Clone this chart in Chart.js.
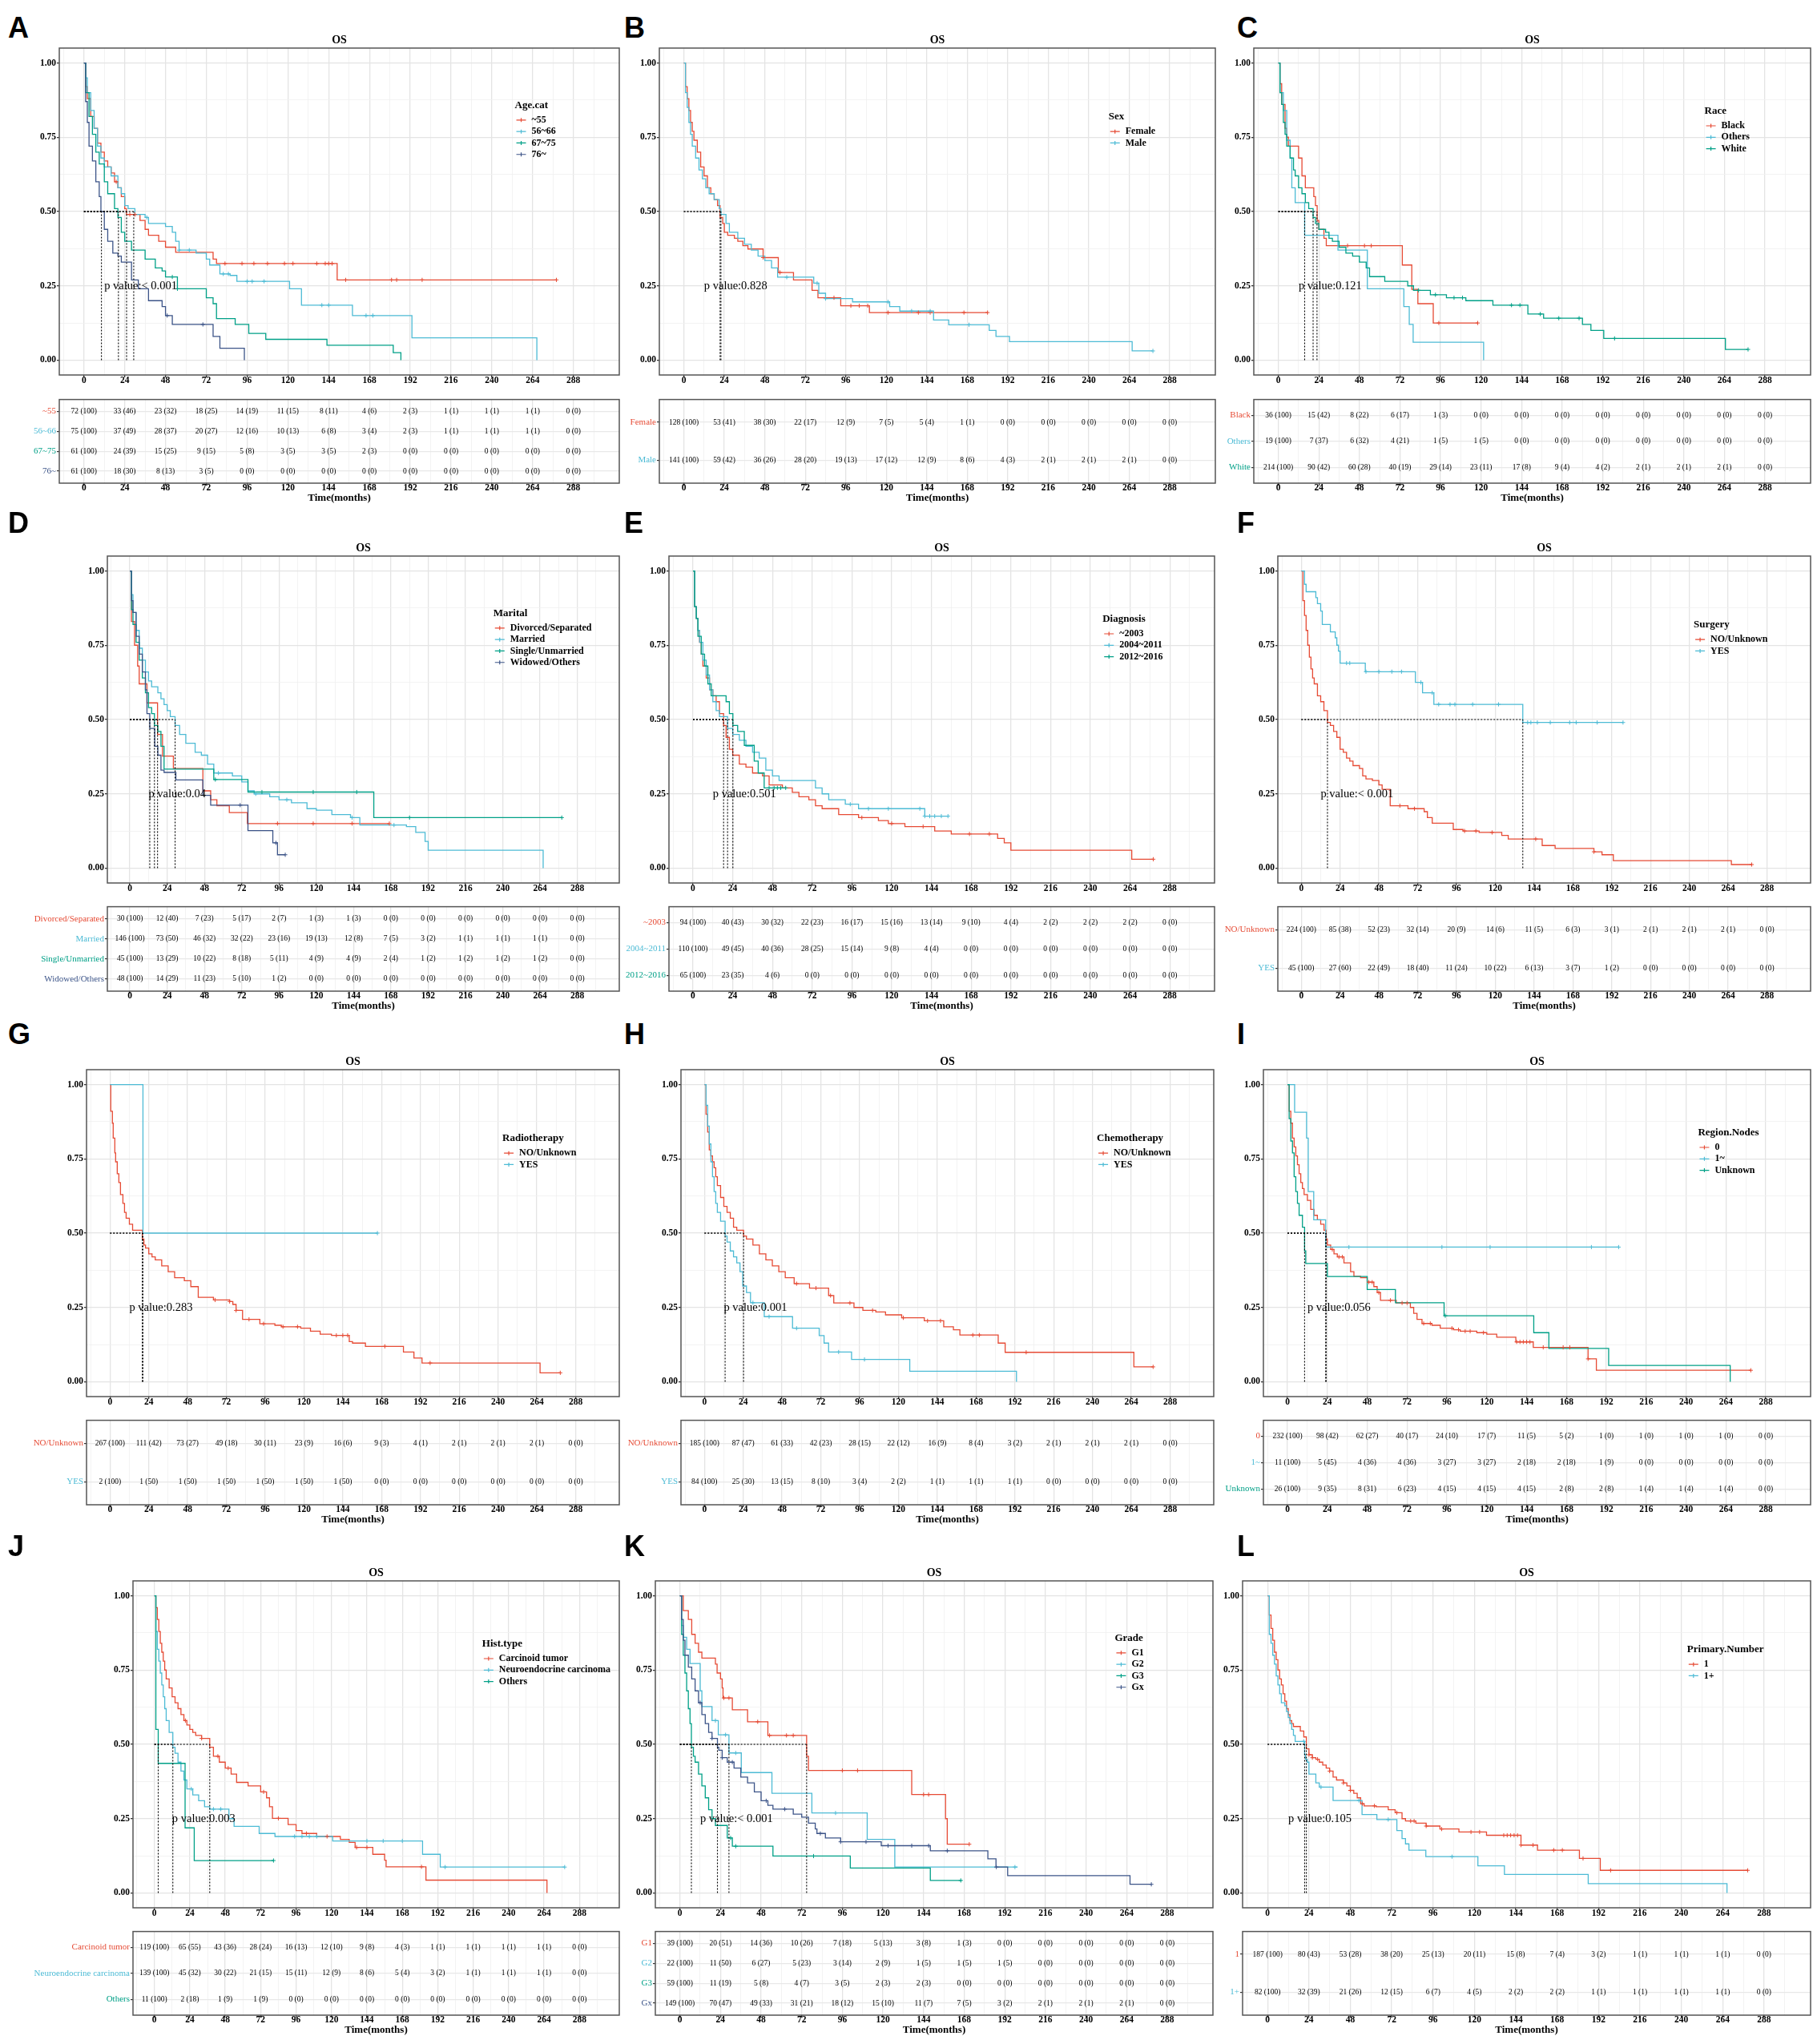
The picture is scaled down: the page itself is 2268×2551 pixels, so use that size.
<!DOCTYPE html>
<html>
<head>
<meta charset="utf-8">
<title>OS Kaplan-Meier curves by clinical factors</title>
<script src="https://cdn.jsdelivr.net/npm/chart.js"></script>
<style>
  body { margin: 0; background: #fff; width: 2268px; height: 2551px; position: relative; overflow: hidden; }
  canvas { position: absolute; }
  .tag { position: absolute; font: bold 36px 'Liberation Sans', Arial, sans-serif; line-height: 36px; color: #000; }
</style>
</head>
<body>
<script>
// ---- shared axis values ----
var xBreaks = [0, 24, 48, 72, 96, 120, 144, 168, 192, 216, 240, 264, 288];
var xMinor = [-12, 12, 36, 60, 84, 108, 132, 156, 180, 204, 228, 252, 276, 300];
var yBreaks = [0, 0.25, 0.5, 0.75, 1];
var yMinor = [0.125, 0.375, 0.625, 0.875];
var groupColors = ['#E64B35', '#4DBBD5', '#00A087', '#3C5488'];

// ---- A: Age.cat ----
var A_title = 'Age.cat';
var A_groups = ['~55', '56~66', '67~75', '76~'];
var A_pval = 'p value:< 0.001';
var A_surv = [
  [[0,1],[1,0.92],[2,0.88],[4,0.82],[6,0.78],[8,0.73],[10,0.70],[12,0.67],[14,0.65],[16,0.63],[18,0.60],[20,0.58],[22,0.55],[24,0.51],[25,0.49],[33,0.47],[36,0.44],[38,0.42],[44,0.40],[48,0.38],[54,0.363],[76,0.34],[78,0.325],[149,0.27],[278,0.27]],
  [[0,1],[1,0.95],[2,0.9],[4,0.84],[6,0.78],[8,0.72],[10,0.68],[12,0.65],[16,0.62],[20,0.58],[22,0.56],[24,0.52],[26,0.51],[30,0.49],[36,0.48],[38,0.46],[48,0.45],[52,0.43],[54,0.40],[56,0.37],[66,0.36],[72,0.34],[74,0.32],[80,0.29],[86,0.285],[90,0.265],[121,0.24],[128,0.185],[158,0.15],[193,0.075],[266.5,0]],
  [[0,1],[1,0.9],[3,0.82],[5,0.76],[7,0.70],[9,0.66],[12,0.6],[14,0.56],[18,0.51],[20,0.48],[22,0.43],[24,0.40],[28,0.37],[36,0.34],[42,0.31],[46,0.30],[48,0.28],[55,0.24],[72,0.21],[76,0.19],[78,0.14],[89,0.12],[97,0.09],[107,0.07],[143,0.05],[182,0.025],[186.5,0]],
  [[0,1],[1,0.87],[2,0.8],[3,0.72],[5,0.67],[7,0.6],[9,0.55],[10,0.5],[12,0.44],[14,0.40],[17,0.36],[20,0.35],[22,0.33],[28,0.27],[32,0.24],[38,0.20],[46,0.18],[48,0.15],[52,0.12],[76,0.08],[80,0.04],[94.4,0]]
];
var A_censor = [[19,27,30,83,93,100,108,118,123,137,142,144,146,154,181,184,199,278],[37,56,62,82,85,96,99,106,140,144,166,170],[52,55],[49,70]];
var A_median = [25.1, 29.3, 20.3, 10.3];
var A_n = [[72,33,23,18,14,11,8,4,2,1,1,1,0],[75,37,28,20,12,10,6,3,2,1,1,1,0],[61,24,15,9,5,3,3,2,0,0,0,0,0],[61,18,8,3,0,0,0,0,0,0,0,0,0]];
var A_pct = [[100,46,32,25,19,15,11,6,3,1,1,1,0],[100,49,37,27,16,13,8,4,3,1,1,1,0],[100,39,25,15,8,5,5,3,0,0,0,0,0],[100,30,13,5,0,0,0,0,0,0,0,0,0]];

// ---- B: Sex ----
var B_title = 'Sex';
var B_groups = ['Female', 'Male'];
var B_pval = 'p value:0.828';
var B_surv = [
  [[0,1],[1,0.92],[2,0.88],[3,0.84],[4,0.80],[5,0.77],[6,0.74],[8,0.70],[10,0.65],[12,0.62],[14,0.58],[16,0.56],[18,0.54],[20,0.52],[21.5,0.48],[23,0.46],[24,0.43],[26,0.42],[30,0.41],[32,0.40],[35,0.385],[38,0.374],[47,0.345],[56,0.295],[65,0.27],[76,0.235],[79.5,0.21],[93,0.183],[110,0.16],[180,0.16]],
  [[0,1],[1,0.9],[2,0.85],[3,0.80],[4,0.76],[5,0.72],[7,0.68],[9,0.64],[11,0.61],[13,0.58],[15,0.56],[18,0.54],[21,0.51],[22,0.49],[25,0.46],[27,0.43],[32,0.41],[36,0.39],[40,0.37],[44,0.35],[48,0.335],[52,0.31],[55.6,0.279],[77,0.259],[80,0.225],[84,0.207],[100,0.196],[122,0.18],[128,0.165],[148,0.135],[157,0.119],[181,0.10],[185,0.08],[193,0.062],[265.7,0.031],[277.7,0.031]]
];
var B_censor = [[47,57,89,99,104,109,121,139,146,166,180],[61,79,84,121,135,146,169,278]];
var B_median = [21.5, 22];
var B_n = [[128,53,38,22,12,7,5,1,0,0,0,0,0],[141,59,36,28,19,17,12,8,4,2,2,2,0]];
var B_pct = [[100,41,30,17,9,5,4,1,0,0,0,0,0],[100,42,26,20,13,12,9,6,3,1,1,1,0]];

// ---- C: Race ----
var C_title = 'Race';
var C_groups = ['Black', 'Others', 'White'];
var C_pval = 'p value:0.121';
var C_surv = [
  [[0,1],[1,0.93],[2,0.86],[4,0.78],[5,0.75],[6,0.72],[12,0.68],[14,0.62],[16,0.58],[21,0.55],[22,0.52],[23,0.47],[24,0.44],[27,0.41],[28.4,0.385],[73.4,0.32],[79,0.238],[82.6,0.19],[91.7,0.125],[118,0.125]],
  [[0,1],[1,0.9],[3,0.84],[5,0.74],[7,0.68],[8,0.58],[10,0.53],[15.6,0.42],[35.3,0.37],[52.7,0.24],[74.3,0.18],[77.5,0.12],[79.8,0.06],[121.5,0]],
  [[0,1],[1,0.9],[2,0.86],[3,0.80],[4,0.76],[5,0.72],[7,0.68],[9,0.64],[10,0.62],[12,0.58],[14,0.56],[16,0.53],[18,0.51],[20.6,0.48],[22,0.46],[24,0.44],[28,0.43],[30,0.41],[32,0.40],[36,0.38],[40,0.36],[44,0.35],[48,0.33],[52,0.31],[54,0.281],[63,0.265],[76.6,0.25],[80,0.235],[90,0.22],[99.5,0.21],[111,0.2],[127,0.185],[147.7,0.155],[157,0.141],[180,0.12],[185,0.10],[192.6,0.073],[264.6,0.036],[277.8,0.036]]
];
var C_censor = [[41,51,55,95,118],[],[83,93,104,109,138,143,155,166,178,199,278]];
var C_median = [22.9, 15.6, 20.6];
var C_n = [[36,15,8,6,1,0,0,0,0,0,0,0,0],[19,7,6,4,1,1,0,0,0,0,0,0,0],[214,90,60,40,29,23,17,9,4,2,2,2,0]];
var C_pct = [[100,42,22,17,3,0,0,0,0,0,0,0,0],[100,37,32,21,5,5,0,0,0,0,0,0,0],[100,42,28,19,14,11,8,4,2,1,1,1,0]];

// ---- D: Marital ----
var D_title = 'Marital';
var D_groups = ['Divorced/Separated', 'Married', 'Single/Unmarried', 'Widowed/Others'];
var D_pval = 'p value:0.04';
var D_surv = [
  [[0,1],[1,0.83],[3,0.75],[5,0.68],[6,0.62],[11,0.556],[17.8,0.45],[21,0.377],[28,0.335],[47,0.26],[52,0.23],[56,0.21],[64,0.187],[75.6,0.15],[167,0.15]],
  [[0,1],[1,0.92],[2,0.86],[4,0.8],[6,0.74],[8,0.70],[10,0.66],[12,0.63],[14,0.61],[18,0.59],[20,0.57],[22,0.55],[24,0.53],[26,0.51],[29.1,0.48],[32,0.45],[36,0.42],[42,0.39],[46,0.38],[50,0.35],[54,0.32],[66,0.31],[72,0.29],[76,0.26],[80,0.25],[90,0.24],[96,0.23],[104,0.22],[114,0.20],[120,0.195],[130,0.18],[142,0.17],[148,0.145],[178,0.14],[184,0.12],[190,0.09],[192,0.06],[266,0]],
  [[0,1],[1,0.87],[2,0.82],[4,0.76],[6,0.7],[8,0.64],[10,0.59],[12,0.54],[14,0.52],[15.8,0.48],[18,0.46],[20,0.41],[22,0.333],[54,0.298],[76,0.256],[157,0.17],[278,0.17]],
  [[0,1],[1,0.9],[2,0.86],[4,0.78],[6,0.72],[8,0.66],[10,0.60],[11,0.52],[12.8,0.47],[16,0.41],[18,0.38],[20,0.33],[22,0.322],[29.6,0.297],[47,0.245],[52,0.212],[76,0.126],[92,0.085],[95,0.045],[100,0.045]]
];
var D_censor = [[95,118,143,167],[57,81,101,143,170],[55,85,118,146,180,278],[71,94,100]];
var D_median = [17.8, 29.1, 15.8, 12.8];
var D_n = [[30,12,7,5,2,1,1,0,0,0,0,0,0],[146,73,46,32,23,19,12,7,3,1,1,1,0],[45,13,10,8,5,4,4,2,1,1,1,1,0],[48,14,11,5,1,0,0,0,0,0,0,0,0]];
var D_pct = [[100,40,23,17,7,3,3,0,0,0,0,0,0],[100,50,32,22,16,13,8,5,2,1,1,1,0],[100,29,22,18,11,9,9,4,2,2,2,2,0],[100,29,23,10,2,0,0,0,0,0,0,0,0]];

// ---- E: Diagnosis ----
var E_title = 'Diagnosis';
var E_groups = ['~2003', '2004~2011', '2012~2016'];
var E_pval = 'p value:0.501';
var E_surv = [
  [[0,1],[1,0.88],[2,0.84],[3,0.80],[4,0.76],[5,0.72],[6,0.68],[8,0.64],[10,0.6],[12,0.58],[14,0.56],[16,0.52],[18.5,0.48],[20,0.44],[22,0.40],[24,0.38],[28,0.35],[32,0.34],[36,0.32],[42,0.31],[46,0.28],[54,0.27],[60,0.255],[64,0.24],[70,0.23],[74,0.21],[78,0.20],[88,0.18],[100,0.17],[112,0.16],[118,0.15],[128,0.14],[146,0.125],[156,0.115],[184,0.10],[188,0.085],[192,0.06],[265,0.03],[278,0.03]],
  [[0,1],[1,0.88],[2,0.84],[3,0.80],[4,0.76],[6,0.70],[8,0.65],[10,0.60],[12,0.56],[14,0.53],[16,0.51],[20.9,0.47],[24,0.45],[28,0.43],[32,0.41],[36,0.39],[40,0.37],[44,0.33],[48,0.31],[52,0.295],[74,0.27],[78,0.25],[82,0.23],[92,0.215],[100,0.20],[140,0.175],[154,0.175]],
  [[0,1],[1,0.88],[2,0.84],[3,0.78],[5,0.72],[7,0.68],[9,0.62],[11,0.58],[20,0.56],[22,0.52],[24.1,0.48],[27,0.46],[31,0.413],[37,0.36],[39.4,0.32],[43,0.27],[56,0.27]]
];
var E_censor = [[102,120,139,167,179,278],[95,106,118,137,140,143,146,150,154],[46,49,51,53,56]];
var E_median = [18.5, 20.9, 24.1];
var E_n = [[94,40,30,22,16,15,13,9,4,2,2,2,0],[110,49,40,28,15,9,4,0,0,0,0,0,0],[65,23,4,0,0,0,0,0,0,0,0,0,0]];
var E_pct = [[100,43,32,23,17,16,14,10,4,2,2,2,0],[100,45,36,25,14,8,4,0,0,0,0,0,0],[100,35,6,0,0,0,0,0,0,0,0,0,0]];

// ---- F: Surgery ----
var F_title = 'Surgery';
var F_groups = ['NO/Unknown', 'YES'];
var F_pval = 'p value:< 0.001';
var F_surv = [
  [[0,1],[1,0.9],[2,0.85],[3,0.8],[4,0.75],[5,0.71],[6,0.67],[7,0.64],[8,0.62],[10,0.58],[12,0.56],[14,0.53],[16.2,0.49],[18,0.48],[20,0.46],[22,0.44],[24,0.40],[26,0.39],[28,0.37],[30,0.36],[32,0.345],[36,0.335],[38,0.31],[40,0.30],[44,0.295],[48,0.28],[50,0.265],[55,0.21],[66,0.20],[76,0.19],[78,0.17],[81,0.151],[94,0.13],[100,0.125],[110,0.12],[124,0.11],[128,0.098],[149,0.076],[157,0.066],[181,0.055],[186,0.045],[193,0.025],[266,0.012],[278.6,0.012]],
  [[0,1],[2,0.955],[3,0.93],[9,0.91],[10,0.89],[12,0.865],[13,0.82],[18,0.795],[21,0.775],[22,0.75],[23,0.73],[24,0.69],[39.6,0.661],[70.6,0.625],[75,0.59],[82,0.551],[137,0.49],[199,0.49]]
];
var F_censor = [[61,70,101,108,118,145,181,278.6],[28,30,40,48,56,62,74,81,85,92,95,106,122,140,142,146,154,166,170,183,199]];
var F_median = [16.2, 137];
var F_n = [[224,85,52,32,20,14,11,6,3,2,2,2,0],[45,27,22,18,11,10,6,3,1,0,0,0,0]];
var F_pct = [[100,38,23,14,9,6,5,3,1,1,1,1,0],[100,60,49,40,24,22,13,7,2,0,0,0,0]];

// ---- G: Radiotherapy ----
var G_title = 'Radiotherapy';
var G_groups = ['NO/Unknown', 'YES'];
var G_pval = 'p value:0.283';
var G_surv = [
  [[0,1],[0.5,0.91],[1.5,0.87],[2,0.82],[3,0.77],[3.5,0.74],[4.5,0.70],[5.5,0.67],[6.5,0.63],[8,0.60],[9,0.57],[10,0.55],[12,0.53],[14,0.51],[20,0.48],[21,0.46],[22,0.45],[24,0.43],[26,0.42],[28,0.41],[32,0.39],[36,0.37],[40,0.35],[46,0.34],[50,0.32],[54.6,0.284],[64,0.275],[74,0.27],[76,0.26],[78,0.24],[82,0.21],[92.7,0.195],[102,0.19],[106,0.185],[118,0.18],[124,0.17],[130,0.16],[137,0.156],[148,0.135],[150,0.13],[158,0.119],[181.5,0.10],[188,0.08],[193,0.063],[266,0.03],[278.5,0.03]],
  [[0,1],[20.4,0.5],[165.4,0.5]]
];
var G_censor = [[65,74,78,86,95,107,116,140,144,147,170,198,278.5],[165.4]];
var G_median = [20, 20.4];
var G_n = [[267,111,73,49,30,23,16,9,4,2,2,2,0],[2,1,1,1,1,1,1,0,0,0,0,0,0]];
var G_pct = [[100,42,27,18,11,9,6,3,1,1,1,1,0],[100,50,50,50,50,50,50,0,0,0,0,0,0]];

// ---- H: Chemotherapy ----
var H_title = 'Chemotherapy';
var H_groups = ['NO/Unknown', 'YES'];
var H_pval = 'p value:0.001';
var H_surv = [
  [[0,1],[1,0.9],[2,0.84],[3,0.78],[4,0.76],[5,0.74],[6,0.72],[7,0.69],[8,0.66],[10,0.62],[12,0.59],[14,0.57],[16,0.55],[18,0.52],[20,0.51],[24.2,0.49],[26,0.48],[30,0.46],[34,0.43],[38,0.41],[42,0.39],[46,0.37],[50,0.35],[55.5,0.33],[65,0.315],[76.8,0.29],[80,0.265],[92.5,0.25],[98,0.24],[106,0.235],[112,0.225],[122,0.215],[136,0.205],[148,0.185],[154,0.175],[158,0.157],[181.7,0.13],[186,0.099],[265.6,0.05],[277.5,0.05]],
  [[0,1],[1,0.93],[2,0.86],[3,0.80],[4,0.74],[5,0.69],[6,0.64],[7,0.6],[8,0.57],[10,0.54],[12.8,0.49],[14,0.47],[16,0.44],[18,0.42],[20,0.40],[22,0.37],[23.7,0.322],[26,0.3],[28.5,0.266],[37,0.219],[54.5,0.18],[71,0.155],[74,0.13],[76.8,0.10],[91,0.075],[127,0.035],[193,0]]
];
var H_censor = [[57,69,78,90,104,123,138,146,166,170,199,277.5],[30,40,57,83,99]];
var H_median = [24.2, 12.8];
var H_n = [[185,87,61,42,28,22,16,8,3,2,2,2,0],[84,25,13,8,3,2,1,1,1,0,0,0,0]];
var H_pct = [[100,47,33,23,15,12,9,4,2,1,1,1,0],[100,30,15,10,4,2,1,1,1,0,0,0,0]];

// ---- I: Region.Nodes ----
var I_title = 'Region.Nodes';
var I_groups = ['0', '1~', 'Unknown'];
var I_pval = 'p value:0.056';
var I_surv = [
  [[0,1],[1,0.91],[2,0.87],[3,0.82],[4,0.79],[5,0.76],[6,0.73],[7,0.70],[8,0.67],[9,0.65],[10,0.63],[12,0.61],[14,0.58],[16,0.56],[18,0.545],[20,0.53],[22,0.51],[23.3,0.48],[24,0.46],[26,0.445],[28,0.43],[30,0.42],[34,0.40],[38,0.37],[40,0.355],[44,0.35],[48,0.335],[52,0.32],[54,0.30],[56,0.274],[65.5,0.265],[74,0.25],[76,0.23],[78,0.21],[81,0.196],[87,0.19],[92,0.18],[100,0.175],[104,0.17],[114,0.165],[120,0.16],[126,0.15],[137.5,0.134],[148,0.1155],[181,0.077],[186,0.0385],[279,0.0385]],
  [[0,1],[4.3,0.907],[11.5,0.82],[12.5,0.64],[15.8,0.545],[23,0.453],[199.4,0.453]],
  [[0,1],[1,0.885],[2,0.81],[3,0.77],[4,0.69],[5,0.64],[6,0.60],[7,0.56],[9,0.52],[10.3,0.44],[11,0.398],[24,0.354],[48,0.31],[65,0.266],[94.3,0.222],[148.3,0.165],[157.4,0.112],[193.4,0.055],[266.6,0]]
];
var I_censor = [[27,31,33,49,51,55,62,69,72,82,86,99,103,107,110,118,138,140,142,144,146,154,166,170,181,279],[37,93,122,183,199.4],[95]];
var I_median = [23.3, 23, 10.3];
var I_n = [[232,98,62,40,24,17,11,5,1,1,1,1,0],[11,5,4,4,3,3,2,2,1,0,0,0,0],[26,9,8,6,4,4,4,2,2,1,1,1,0]];
var I_pct = [[100,42,27,17,10,7,5,2,0,0,0,0,0],[100,45,36,36,27,27,18,18,9,0,0,0,0],[100,35,31,23,15,15,15,8,8,4,4,4,0]];

// ---- J: Hist.type ----
var J_title = 'Hist.type';
var J_groups = ['Carcinoid tumor', 'Neuroendocrine carcinoma', 'Others'];
var J_pval = 'p value:0.003';
var J_surv = [
  [[0,1],[1,0.96],[2,0.92],[3,0.88],[4,0.84],[5,0.81],[6,0.78],[7,0.75],[8,0.72],[10,0.69],[12,0.66],[14,0.64],[16,0.62],[18,0.60],[20,0.58],[22,0.565],[24,0.55],[26,0.54],[28,0.53],[32,0.52],[37.5,0.49],[40,0.46],[44,0.44],[48,0.42],[52,0.40],[55.7,0.372],[63.5,0.36],[72,0.34],[76,0.32],[78,0.29],[80,0.251],[90.6,0.23],[96,0.21],[100,0.2],[110,0.19],[126,0.18],[132,0.17],[136,0.153],[148,0.13],[156,0.11],[157,0.088],[184,0.043],[266,0]],
  [[0,1],[1,0.88],[2,0.82],[3,0.78],[4,0.74],[5,0.70],[6,0.66],[7,0.62],[8,0.58],[10,0.54],[12.5,0.49],[14,0.47],[16,0.44],[18,0.41],[20,0.38],[22,0.35],[26,0.33],[30,0.31],[34,0.29],[37.5,0.282],[50.5,0.25],[54,0.224],[71,0.2],[81.7,0.19],[120.8,0.175],[181.7,0.13],[193.7,0.087],[278,0.087]],
  [[0,1],[1,0.55],[2.6,0.436],[20.8,0.219],[27,0.109],[80.7,0.109]]
];
var J_censor = [[21,32,43,50,74,84,103,117,137,144,181],[25,40,45,95,100,105,110,144,155,168,197,278],[80.7]];
var J_median = [37.5, 12.5, 2.6];
var J_n = [[119,65,43,28,16,12,9,4,1,1,1,1,0],[139,45,30,21,15,12,8,5,3,1,1,1,0],[11,2,1,1,0,0,0,0,0,0,0,0,0]];
var J_pct = [[100,55,36,24,13,10,8,3,1,1,1,1,0],[100,32,22,15,11,9,6,4,2,1,1,1,0],[100,18,9,9,0,0,0,0,0,0,0,0,0]];

// ---- K: Grade ----
var K_title = 'Grade';
var K_groups = ['G1', 'G2', 'G3', 'Gx'];
var K_pval = 'p value:< 0.001';
var K_surv = [
  [[0,1],[2,0.95],[5,0.92],[7,0.87],[9,0.84],[11,0.81],[13,0.79],[21,0.77],[22,0.74],[24,0.72],[25,0.69],[25.5,0.656],[31,0.616],[40,0.576],[52,0.53],[74.9,0.46],[76,0.412],[137,0.331],[157,0.25],[158,0.164],[171,0.164]],
  [[0,1],[1,0.9],[2,0.86],[4,0.82],[6,0.772],[12,0.68],[13,0.627],[19,0.58],[22.7,0.532],[29,0.471],[36.3,0.405],[54.4,0.335],[78,0.269],[110.7,0.18],[127,0.087],[199.6,0.087]],
  [[0,1],[1,0.87],[2,0.8],[3,0.74],[4,0.68],[5,0.62],[6,0.57],[6.8,0.49],[8,0.46],[9,0.44],[11,0.40],[13,0.36],[15,0.32],[17,0.28],[19,0.25],[21,0.227],[28,0.185],[31,0.157],[55,0.124],[100.7,0.084],[148,0.042],[166.5,0.042]],
  [[0,1],[1,0.92],[2,0.85],[3,0.80],[5,0.76],[7,0.72],[9,0.68],[11,0.64],[13,0.60],[15,0.57],[17,0.54],[19,0.52],[22.2,0.49],[23,0.48],[25,0.455],[28,0.44],[32,0.42],[36,0.39],[40,0.37],[44,0.34],[48,0.31],[52,0.295],[55,0.282],[67,0.265],[72,0.255],[76,0.235],[80,0.215],[81,0.2],[86,0.185],[95,0.172],[119,0.159],[148,0.142],[182,0.115],[186.8,0.087],[193.7,0.058],[266,0.029],[278.6,0.029]]
];
var K_censor = [[26,29,46,53,63,67,96,105,144,147,171],[21,27,33,92,198],[30,33,79,166],[12,19,25,31,51,62,83,95,110,123,137,147,158,187,278.6]];
var K_median = [74.9, 29, 6.8, 22.2];
var K_n = [[39,20,14,10,7,5,3,1,0,0,0,0,0],[22,11,6,5,3,2,1,1,1,0,0,0,0],[59,11,5,4,3,2,2,0,0,0,0,0,0],[149,70,49,31,18,15,11,7,3,2,2,2,0]];
var K_pct = [[100,51,36,26,18,13,8,3,0,0,0,0,0],[100,50,27,23,14,9,5,5,5,0,0,0,0],[100,19,8,7,5,3,3,0,0,0,0,0,0],[100,47,33,21,12,10,7,5,2,1,1,1,0]];

// ---- L: Primary.Number ----
var L_title = 'Primary.Number';
var L_groups = ['1', '1+'];
var L_pval = 'p value:0.105';
var L_surv = [
  [[0,1],[1,0.935],[2,0.89],[3,0.85],[4,0.81],[5,0.785],[6,0.75],[7,0.72],[8,0.70],[9,0.67],[10,0.645],[11,0.62],[12,0.60],[13,0.58],[14,0.57],[15,0.56],[19,0.545],[21,0.525],[22.5,0.485],[24,0.465],[26,0.455],[28,0.45],[30,0.44],[32,0.43],[34,0.42],[36,0.41],[38,0.39],[40,0.38],[44,0.37],[46,0.36],[48,0.345],[50,0.335],[52,0.32],[54,0.30],[56,0.293],[63,0.29],[70,0.28],[74,0.27],[78,0.25],[80,0.242],[86,0.235],[92,0.225],[100,0.215],[111,0.205],[127,0.194],[147,0.161],[156.6,0.144],[180.9,0.116],[193,0.076],[278.5,0.076]],
  [[0,1],[1,0.87],[2,0.84],[3,0.80],[4,0.77],[5,0.73],[6,0.70],[7,0.67],[8,0.64],[10,0.63],[11,0.61],[12,0.59],[13,0.57],[14,0.55],[15,0.53],[16,0.51],[21.5,0.465],[22,0.45],[23,0.44],[24,0.40],[28,0.37],[30,0.356],[38,0.311],[54.8,0.264],[63.4,0.247],[75,0.21],[78,0.183],[80,0.165],[82,0.144],[91.8,0.122],[122,0.091],[137.4,0.062],[186,0.031],[266.5,0]]
];
var L_censor = [[24,26,29,36,44,48,55,62,75,83,85,92,101,118,123,137,139,141,143,145,147,154,166,171,183,199,278.5],[21,31,53,70,107]];
var L_median = [22.5, 21.5];
var L_n = [[187,80,53,38,25,20,15,7,3,1,1,1,0],[82,32,21,12,6,4,2,2,1,1,1,1,0]];
var L_pct = [[100,43,28,20,13,11,8,4,2,1,1,1,0],[100,39,26,15,7,5,2,2,1,1,1,1,0]];

// ---- page layout (pixels) ----
var SERIF = "'Liberation Serif', 'Times New Roman', serif";
var colStart = [0, 776, 1519];
var tagX = [10, 779, 1544];
var rowGeo = [
  { plotTop: 60,   plotBot: 468,  tabTop: 495,  tabBot: 603,  tagTop: 22 },
  { plotTop: 694,  plotBot: 1102, tabTop: 1128, tabBot: 1237, tagTop: 640 },
  { plotTop: 1335, plotBot: 1743, tabTop: 1769, tabBot: 1878, tagTop: 1278 },
  { plotTop: 1973, plotBot: 2381, tabTop: 2407, tabBot: 2515, tagTop: 1917 }
];

var panels = [
  { tag: 'A', col: 0, row: 0, boxL: 74,   boxR: 773,  title: A_title, groups: A_groups, pval: A_pval, surv: A_surv, censor: A_censor, median: A_median, n: A_n, pct: A_pct },
  { tag: 'B', col: 1, row: 0, boxL: 823,  boxR: 1517, title: B_title, groups: B_groups, pval: B_pval, surv: B_surv, censor: B_censor, median: B_median, n: B_n, pct: B_pct },
  { tag: 'C', col: 2, row: 0, boxL: 1565, boxR: 2260, title: C_title, groups: C_groups, pval: C_pval, surv: C_surv, censor: C_censor, median: C_median, n: C_n, pct: C_pct },
  { tag: 'D', col: 0, row: 1, boxL: 134,  boxR: 773,  title: D_title, groups: D_groups, pval: D_pval, surv: D_surv, censor: D_censor, median: D_median, n: D_n, pct: D_pct },
  { tag: 'E', col: 1, row: 1, boxL: 835,  boxR: 1516, title: E_title, groups: E_groups, pval: E_pval, surv: E_surv, censor: E_censor, median: E_median, n: E_n, pct: E_pct },
  { tag: 'F', col: 2, row: 1, boxL: 1595, boxR: 2260, title: F_title, groups: F_groups, pval: F_pval, surv: F_surv, censor: F_censor, median: F_median, n: F_n, pct: F_pct },
  { tag: 'G', col: 0, row: 2, boxL: 108,  boxR: 773,  title: G_title, groups: G_groups, pval: G_pval, surv: G_surv, censor: G_censor, median: G_median, n: G_n, pct: G_pct },
  { tag: 'H', col: 1, row: 2, boxL: 850,  boxR: 1515, title: H_title, groups: H_groups, pval: H_pval, surv: H_surv, censor: H_censor, median: H_median, n: H_n, pct: H_pct },
  { tag: 'I', col: 2, row: 2, boxL: 1577, boxR: 2260, title: I_title, groups: I_groups, pval: I_pval, surv: I_surv, censor: I_censor, median: I_median, n: I_n, pct: I_pct },
  { tag: 'J', col: 0, row: 3, boxL: 166,  boxR: 773,  title: J_title, groups: J_groups, pval: J_pval, surv: J_surv, censor: J_censor, median: J_median, n: J_n, pct: J_pct },
  { tag: 'K', col: 1, row: 3, boxL: 818,  boxR: 1514, title: K_title, groups: K_groups, pval: K_pval, surv: K_surv, censor: K_censor, median: K_median, n: K_n, pct: K_pct },
  { tag: 'L', col: 2, row: 3, boxL: 1551, boxR: 2260, title: L_title, groups: L_groups, pval: L_pval, surv: L_surv, censor: L_censor, median: L_median, n: L_n, pct: L_pct }
];

// ---- helpers ----
function stepValue(curve, t) {
  var s = curve[0][1];
  for (var i = 0; i < curve.length; i++) {
    if (curve[i][0] <= t) s = curve[i][1]; else break;
  }
  return s;
}

function isIn(list, c) {
  return c && c.tick && list.indexOf(c.tick.value) >= 0;
}

function makeCanvas(left, top, w, h) {
  var c = document.createElement('canvas');
  c.width = w; c.height = h;
  c.style.left = left + 'px'; c.style.top = top + 'px';
  c.style.width = w + 'px'; c.style.height = h + 'px';
  document.body.appendChild(c);
  return c;
}

function xAxis(height, pad) {
  var all = xMinor.concat(xBreaks).sort(function (a, b) { return a - b; });
  return {
    type: 'linear', min: -14.5, max: 315,
    afterBuildTicks: function (s) { s.ticks = all.map(function (v) { return { value: v }; }); },
    afterFit: function (s) { s.height = height; },
    border: { display: false },
    grid: {
      color: function (c) { return isIn(xBreaks, c) ? '#E4E4E4' : '#F0F0F0'; },
      lineWidth: function (c) { return isIn(xBreaks, c) ? 1.3 : 0.8; },
      tickLength: 3,
      tickColor: function (c) { return isIn(xBreaks, c) ? '#333' : 'rgba(0,0,0,0)'; }
    },
    ticks: {
      autoSkip: false, maxRotation: 0, minRotation: 0, padding: pad, color: '#000',
      font: { family: SERIF, size: 11.5, weight: 'bold' },
      callback: function (v) { return xBreaks.indexOf(v) >= 0 ? String(v) : ''; }
    }
  };
}

function yAxisPlot(width) {
  var all = yBreaks.concat(yMinor).sort(function (a, b) { return a - b; });
  return {
    type: 'linear', min: -0.05, max: 1.05,
    afterBuildTicks: function (s) { s.ticks = all.map(function (v) { return { value: v }; }); },
    afterFit: function (s) { s.width = width; },
    border: { display: false },
    grid: {
      color: function (c) { return isIn(yBreaks, c) ? '#E4E4E4' : '#F0F0F0'; },
      lineWidth: function (c) { return isIn(yBreaks, c) ? 1.3 : 0.8; },
      tickLength: 3,
      tickColor: function (c) { return isIn(yBreaks, c) ? '#333' : 'rgba(0,0,0,0)'; }
    },
    ticks: {
      autoSkip: false, padding: 1, color: '#000',
      font: { family: SERIF, size: 11.5, weight: 'bold' },
      callback: function (v) { return yBreaks.indexOf(v) >= 0 ? v.toFixed(2) : ''; }
    }
  };
}

function yAxisTable(width, groups) {
  return {
    type: 'linear', reverse: true, min: -0.6, max: groups.length - 1 + 0.6,
    afterBuildTicks: function (s) { s.ticks = groups.map(function (g, i) { return { value: i }; }); },
    afterFit: function (s) { s.width = width; },
    border: { display: false },
    grid: { color: '#E8E8E8', lineWidth: 1.2, tickLength: 3, tickColor: '#333' },
    ticks: {
      autoSkip: false, padding: 1,
      color: function (c) { return groupColors[c.tick ? c.tick.value : c.index]; },
      font: { family: SERIF, size: 11 },
      callback: function (v) { return groups[v]; }
    }
  };
}

function plotDecor(p) {
  return {
    id: 'plotDecor' + p.tag,
    afterDraw: function (chart) {
      var ctx = chart.ctx, a = chart.chartArea;
      var xs = chart.scales.x, ys = chart.scales.y;
      ctx.save();
      ctx.strokeStyle = '#555'; ctx.lineWidth = 1.5;
      ctx.strokeRect(a.left, a.top, a.right - a.left, a.bottom - a.top);
      ctx.fillStyle = '#000';
      ctx.font = 'bold 14px ' + SERIF;
      ctx.textAlign = 'center'; ctx.textBaseline = 'middle';
      ctx.fillText('OS', (a.left + a.right) / 2, a.top - 10);
      // p value annotation
      ctx.font = '14.5px ' + SERIF;
      ctx.textAlign = 'left';
      ctx.fillText(p.pval, xs.getPixelForValue(12), ys.getPixelForValue(0.25));
      // legend, centred at (0.85, 0.75) of the panel
      ctx.font = 'bold 13px ' + SERIF;
      var tw = ctx.measureText(p.title).width;
      ctx.font = 'bold 12px ' + SERIF;
      var iw = 0;
      p.groups.forEach(function (g) { iw = Math.max(iw, ctx.measureText(g).width); });
      var w = Math.max(tw, 21 + iw);
      var h = 18.6 + (p.groups.length - 1) * 14.3;
      var x0 = a.left + 0.85 * (a.right - a.left) - w / 2;
      var y0 = a.bottom - 0.75 * (a.bottom - a.top) - h / 2;
      ctx.font = 'bold 13px ' + SERIF;
      ctx.fillText(p.title, x0, y0);
      ctx.font = 'bold 12px ' + SERIF;
      p.groups.forEach(function (g, i) {
        var y = y0 + 18.6 + i * 14.3;
        ctx.strokeStyle = groupColors[i]; ctx.lineWidth = 1.2;
        ctx.beginPath();
        ctx.moveTo(x0 + 2, y); ctx.lineTo(x0 + 14, y);
        ctx.moveTo(x0 + 8, y - 2.5); ctx.lineTo(x0 + 8, y + 2.5);
        ctx.stroke();
        ctx.fillText(g, x0 + 21, y);
      });
      ctx.restore();
    }
  };
}

function tableDecor(p) {
  return {
    id: 'tableDecor' + p.tag,
    afterDraw: function (chart) {
      var ctx = chart.ctx, a = chart.chartArea;
      ctx.save();
      ctx.fillStyle = '#000';
      ctx.font = '9.5px ' + SERIF;
      ctx.textAlign = 'center'; ctx.textBaseline = 'middle';
      var meta = chart.getDatasetMeta(0);
      meta.data.forEach(function (el, k) {
        ctx.fillText(chart.data.datasets[0].data[k].label, el.x, el.y);
      });
      ctx.strokeStyle = '#555'; ctx.lineWidth = 1.5;
      ctx.strokeRect(a.left, a.top, a.right - a.left, a.bottom - a.top);
      ctx.font = 'bold 13px ' + SERIF;
      ctx.fillText('Time(months)', (a.left + a.right) / 2, a.bottom + 18.5);
      ctx.restore();
    }
  };
}

var baseOptions = function () {
  return {
    responsive: false, animation: false, events: [], devicePixelRatio: 1,
    plugins: { legend: { display: false }, tooltip: { enabled: false }, title: { display: false } }
  };
};

// ---- build panels ----
panels.forEach(function (p) {
  var g = rowGeo[p.row], c0 = colStart[p.col];
  var tag = document.createElement('div');
  tag.className = 'tag';
  tag.textContent = p.tag;
  tag.style.left = tagX[p.col] + 'px';
  tag.style.top = (g.tagTop - 5) + 'px';
  document.body.appendChild(tag);

  // survival plot
  var padTop = 32, axisH = 24, padR = 6;
  var pw = p.boxR - c0 + padR, ph = (g.plotBot - g.plotTop) + padTop + axisH;
  var cv = makeCanvas(c0, g.plotTop - padTop, pw, ph);
  var ds = [];
  p.median.forEach(function (m) {
    ds.push({ data: [{ x: 0, y: 0.5 }, { x: m, y: 0.5 }], borderColor: '#000', borderWidth: 1.1, borderDash: [2, 2], pointRadius: 0, order: 0 });
    ds.push({ data: [{ x: m, y: 0 }, { x: m, y: 0.5 }], borderColor: '#000', borderWidth: 1.1, borderDash: [2, 2], pointRadius: 0, order: 0 });
  });
  p.surv.forEach(function (curve, i) {
    ds.push({
      data: curve.map(function (pt) { return { x: pt[0], y: pt[1] }; }),
      stepped: true, borderColor: groupColors[i], borderWidth: 1.3, pointRadius: 0, fill: false, order: 10 - i
    });
    ds.push({
      data: p.censor[i].map(function (t) { return { x: t, y: stepValue(curve, t) }; }),
      showLine: false, pointStyle: 'cross', pointRadius: 2.6, borderColor: groupColors[i], borderWidth: 1, order: 5 - i
    });
  });
  var opt = baseOptions();
  opt.layout = { autoPadding: false, padding: { left: 0, right: padR, top: padTop, bottom: 0 } };
  opt.scales = { x: xAxis(axisH, -2.5), y: yAxisPlot(p.boxL - c0) };
  new Chart(cv, { type: 'line', data: { datasets: ds }, options: opt, plugins: [plotDecor(p)] });

  // number-at-risk table
  var tPadTop = 4, tAxisH = 32;
  var th = (g.tabBot - g.tabTop) + tPadTop + tAxisH;
  var tv = makeCanvas(c0, g.tabTop - tPadTop, pw, th);
  var cells = [];
  p.groups.forEach(function (grp, i) {
    xBreaks.forEach(function (t, k) {
      cells.push({ x: t, y: i, label: p.n[i][k] + ' (' + p.pct[i][k] + ')' });
    });
  });
  var topt = baseOptions();
  topt.layout = { autoPadding: false, padding: { left: 0, right: padR, top: tPadTop, bottom: 0 } };
  topt.scales = { x: xAxis(tAxisH, -3.5), y: yAxisTable(p.boxL - c0, p.groups) };
  new Chart(tv, {
    type: 'line',
    data: { datasets: [{ data: cells, showLine: false, pointRadius: 0 }] },
    options: topt,
    plugins: [tableDecor(p)]
  });
});
</script>
</body>
</html>
